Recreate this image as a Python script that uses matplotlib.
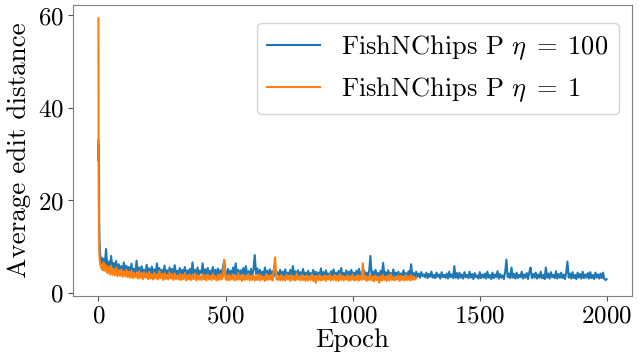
import numpy as np
import matplotlib
matplotlib.use("Agg")
import matplotlib.pyplot as plt

# first 20 epochs, one value per epoch
blue_early = [33.0, 28.5, 32.0, 16.0, 12.0, 10.2, 9.0, 8.4, 7.8, 7.5,
              7.2, 6.9, 7.6, 6.8, 6.5, 7.0, 6.3, 6.6, 6.1, 6.4]
orange_early = [59.4, 24.0, 12.5, 9.5, 8.0, 7.2, 6.6, 6.3, 6.0, 5.8,
                5.9, 5.5, 5.6, 5.3, 5.4, 5.1, 5.2, 5.0, 4.9, 5.1]

# every 5 epochs from epoch 20 to 1995
blue_late = [
    7.4, 6.0, 9.5, 5.6, 6.8, 5.2, 8.0, 5.4, 6.5, 5.0, 6.9, 4.8, 6.2, 5.1, 5.8, 4.7, 6.6, 4.6, 5.9, 4.9,
    5.6, 4.4, 6.3, 4.5, 5.2, 4.2, 7.0, 4.6, 5.5, 4.1, 5.8, 4.3, 5.0, 4.0, 6.1, 4.4, 5.3, 3.9, 5.7, 4.2,
    5.1, 3.9, 6.4, 4.3, 5.4, 4.0, 5.0, 3.8, 5.9, 4.2, 4.9, 3.8, 5.5, 4.1, 5.2, 3.7, 6.0, 4.0, 4.8, 3.9,
    5.4, 3.8, 5.0, 4.1, 5.6, 3.7, 4.9, 4.0, 5.2, 3.8, 6.6, 4.1, 5.0, 3.7, 5.5, 3.9, 4.8, 4.2, 6.4, 3.8,
    5.1, 3.9, 5.4, 3.7, 4.8, 4.0, 5.6, 3.8, 5.0, 3.6, 5.3, 4.0, 4.9, 3.7, 5.7, 7.0, 4.4, 3.8, 5.2, 3.9,
    4.8, 3.7, 5.5, 4.0, 6.4, 3.8, 5.0, 3.6, 4.9, 4.1, 5.4, 3.7, 5.8, 3.9, 4.7, 3.6, 5.2, 3.8, 5.0, 8.2,
    4.1, 5.3, 3.7, 5.0, 3.9, 4.6, 3.6, 5.5, 4.0, 4.8, 3.7, 5.1, 3.8, 4.7, 3.6, 5.2, 3.9, 4.5, 3.7, 5.0,
    3.8, 4.6, 3.6, 5.1, 3.7, 4.4, 3.9, 5.0, 3.6, 5.8, 3.8, 4.7, 3.5, 4.9, 3.7, 4.5, 3.6, 5.2, 3.8, 4.4,
    3.6, 4.8, 3.7, 4.3, 3.5, 5.0, 3.8, 4.6, 3.6, 4.4, 3.5, 5.3, 3.7, 4.5, 3.6, 4.9, 3.8, 4.2, 3.5, 4.7,
    3.7, 5.1, 3.6, 4.4, 3.8, 4.8, 3.5, 5.4, 3.7, 4.3, 3.6, 4.9, 3.5, 4.6, 3.8, 5.0, 3.6, 4.4, 3.7, 4.8,
    3.6, 5.2, 3.8, 4.5, 3.6, 4.9, 3.5, 4.4, 3.7, 4.7, 8.0, 3.8, 4.6, 3.6, 5.0, 3.7, 4.3, 3.5, 4.8, 3.8,
    6.5, 3.7, 4.5, 3.6, 4.9, 3.8, 4.3, 3.5, 5.1, 3.6, 4.4, 3.7, 4.6, 3.5, 4.2, 3.8, 4.9, 3.6, 4.3, 3.5,
    4.7, 3.6, 6.2, 3.7, 4.3, 3.4, 4.6, 3.5, 4.2, 3.3, 4.5, 3.6, 4.0, 3.4, 4.4, 3.2, 4.1, 3.5, 4.6, 3.3,
    3.9, 3.2, 4.4, 3.5, 4.0, 3.1, 4.5, 3.4, 3.9, 3.3, 4.2, 3.1, 4.6, 3.4, 4.0, 3.2, 5.8, 3.3, 4.3, 3.1,
    4.4, 3.3, 4.0, 3.1, 4.5, 3.4, 3.9, 3.2, 4.6, 3.3, 4.1, 3.0, 4.3, 3.4, 3.8, 3.1, 4.5, 3.2, 4.0, 3.3,
    4.2, 3.1, 4.6, 3.3, 3.9, 3.0, 4.4, 3.2, 4.0, 3.4, 4.7, 3.1, 4.1, 3.3, 3.8, 3.0, 4.5, 7.2, 3.4, 4.2,
    3.2, 5.5, 3.3, 4.1, 3.1, 4.4, 3.2, 3.9, 3.4, 4.6, 3.1, 4.0, 3.3, 4.3, 3.0, 4.5, 5.5, 3.2, 4.1, 3.3,
    4.4, 3.1, 4.0, 3.3, 4.6, 3.2, 3.9, 3.0, 5.5, 3.3, 4.2, 3.1, 4.5, 3.4, 3.9, 3.2, 4.7, 3.1, 4.1, 3.3,
    4.4, 3.2, 4.0, 3.0, 4.3, 6.8, 3.3, 4.2, 3.1, 4.5, 3.2, 3.9, 3.0, 4.4, 3.3, 4.1, 3.1, 4.6, 3.2, 4.0,
    3.3, 4.3, 3.1, 4.5, 3.2, 3.9, 3.0, 4.4, 3.3, 4.0, 3.1, 4.2, 3.2, 4.4, 3.0, 2.8,
]
blue_last = 3.0  # epoch 1999

# every 5 epochs from epoch 20 to 1250
orange_late = [
    6.6, 4.8, 6.0, 4.3, 5.7, 4.0, 5.9, 3.9, 5.2, 3.8, 5.5, 3.6, 4.9, 3.7, 5.1, 3.5, 4.7, 3.6, 5.0, 3.4,
    4.6, 3.3, 4.8, 3.2, 4.4, 3.4, 4.2, 3.1, 4.7, 3.2, 4.3, 3.0, 4.5, 3.3, 4.1, 3.0, 4.6, 3.1, 4.0, 2.9,
    4.4, 3.1, 4.0, 2.9, 4.7, 3.2, 4.1, 2.8, 4.3, 3.0, 3.9, 2.9, 4.5, 3.1, 4.0, 2.8, 4.2, 3.0, 3.8, 2.9,
    4.1, 2.8, 3.9, 3.0, 4.3, 2.7, 3.8, 2.9, 4.0, 2.8, 3.7, 3.0, 4.2, 2.7, 3.9, 2.9, 3.6, 2.8, 4.1, 2.9,
    3.8, 2.7, 4.0, 2.9, 3.7, 2.8, 4.2, 3.0, 3.6, 2.7, 3.9, 2.8, 4.1, 2.9, 3.7, 7.2, 3.0, 2.8, 3.9, 2.7,
    3.8, 2.9, 4.0, 2.7, 3.6, 2.8, 4.3, 2.9, 3.7, 2.6, 3.9, 2.8, 3.5, 2.9, 4.1, 2.7, 3.7, 2.8, 3.9, 2.7,
    3.6, 2.8, 4.0, 2.7, 3.8, 2.9, 3.5, 2.6, 4.1, 2.8, 3.7, 2.9, 3.9, 2.7, 5.0, 7.7, 3.1, 2.8, 3.6, 2.7,
    3.9, 2.8, 3.5, 2.7, 4.0, 2.9, 3.7, 2.6, 3.8, 2.8, 3.5, 2.7, 4.2, 2.9, 3.6, 2.7, 3.9, 2.8, 3.4, 2.6,
    3.8, 2.7, 3.6, 2.8, 4.0, 2.6, 3.5, 2.2, 3.7, 2.8, 3.9, 2.7, 3.4, 2.8, 3.8, 2.6, 3.6, 2.9, 4.0, 2.7,
    3.5, 2.8, 3.9, 2.7, 3.6, 2.6, 4.1, 2.8, 3.7, 2.7, 3.5, 2.9, 3.8, 2.6, 3.6, 2.8, 4.0, 2.7, 3.4, 2.8,
    3.9, 2.7, 3.6, 2.8, 6.4, 2.9, 3.7, 2.6, 3.5, 2.8, 3.9, 2.7, 3.6, 2.5, 3.8, 2.8, 3.4, 2.2, 3.7, 2.7,
    3.9, 2.8, 3.5, 2.6, 3.8, 2.7, 4.0, 2.8, 3.6, 2.7, 3.4, 2.9, 3.8, 2.6, 3.7, 2.8, 3.5, 2.7, 3.9, 2.8,
    3.6, 2.7, 3.8, 2.8, 3.5, 2.9, 3.2,
]

blue_epochs = np.r_[np.arange(20), np.arange(20, 2000, 5), 1999]
blue = np.r_[blue_early, blue_late, blue_last]
orange_epochs = np.r_[np.arange(20), np.arange(20, 1255, 5)]
orange = np.r_[orange_early, orange_late]

labels = [r"FishNChips P $\eta\;=\;100$", r"FishNChips P $\eta\;=\;1$"]

plt.rcParams["font.family"] = ["cmr10", "DejaVu Serif"]
plt.rcParams["mathtext.fontset"] = "cm"
plt.rcParams["axes.formatter.use_mathtext"] = True
plt.rcParams["font.size"] = 18

fig, ax = plt.subplots(figsize=(6.39, 3.56), dpi=100)
fig.subplots_adjust(left=73 / 639, right=632 / 639, top=1 - 5 / 356, bottom=1 - 296 / 356)

ax.plot(blue_epochs, blue, color="#1f77b4", lw=1.5, label=labels[0])
ax.plot(orange_epochs, orange, color="#ff7f0e", lw=1.5, label=labels[1])

ax.set_xlabel("Epoch", fontsize=19.5, labelpad=1)
ax.set_ylabel("Average edit distance", fontsize=19.5, labelpad=5)
ax.set_xticks([0, 500, 1000, 1500, 2000])
ax.set_yticks([0, 20, 40, 60])
for spine in ax.spines.values():
    spine.set_color("0.5")
ax.tick_params(color="0.3", length=3.5, pad=3)

ax.legend(loc="upper right", bbox_to_anchor=(1, 0.985), fontsize=19,
          framealpha=0.8, borderaxespad=0.5)

fig.savefig("out.png", dpi=100)
